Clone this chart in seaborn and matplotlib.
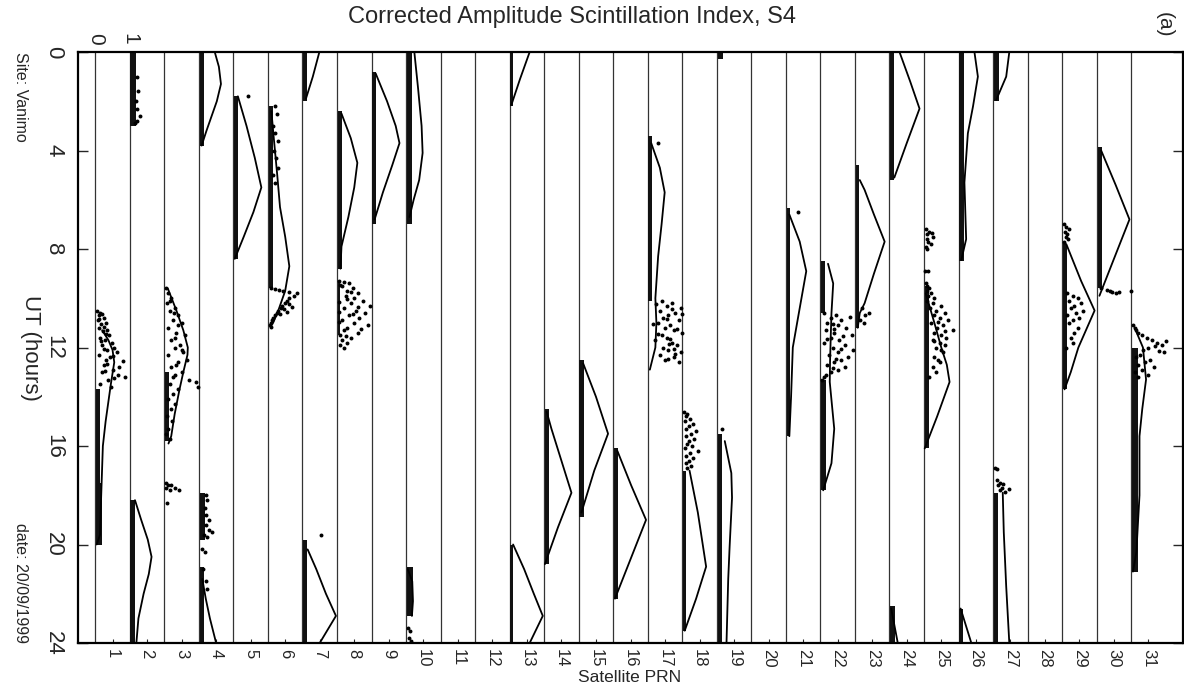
import numpy as np
import pandas as pd
import matplotlib
matplotlib.use('Agg')
import matplotlib.pyplot as plt
import seaborn as sns

prns = list(range(1, 32))
hour_ticks = [0, 4, 8, 12, 16, 20, 24]

# dense runs of low S4 (many points packed together): prn, start/end hour, S4 low/high
band_prn = [1, 1, 2, 2, 3, 4, 4, 4, 5, 6, 7, 7, 8, 8, 9, 10, 10, 13, 13, 14, 15, 16, 17, 18,
            19, 19, 21, 22, 22, 23, 24, 24, 25, 26, 26, 27, 27, 29, 30, 31]
band_t0 = [13.7, 17.5, 0.0, 18.2, 13.0, 0.0, 17.9, 20.9, 1.8, 2.2, 0.0, 19.8, 2.4, 9.3, 0.8, 0.0, 20.9, 0.0, 20.0, 14.5,
           12.5, 16.1, 3.4, 17.0, 0.0, 15.5, 6.35, 8.5, 13.3, 4.6, 0.0, 22.5, 9.5, 0.0, 22.6, 0.0, 17.9, 7.8, 3.85, 12.0]
band_t1 = [17.5, 20.0, 3.0, 24.0, 15.8, 3.8, 19.8, 24.0, 8.4, 9.6, 2.0, 24.0, 8.8, 11.5, 7.0, 7.0, 22.9, 2.2, 24.0, 20.8,
           18.9, 22.2, 10.1, 23.5, 0.3, 24.0, 15.6, 10.6, 17.8, 11.2, 5.2, 24.0, 16.1, 8.5, 24.0, 2.0, 24.0, 13.7, 9.6, 21.1]
band_lo = [0.02, 0.02, 0.02, 0.02, 0.02, 0.02, 0.02, 0.02, 0.02, 0.02, 0.02, 0.02, 0.02, 0.02, 0.02, 0.02, 0.04, 0.01, 0.01, 0.02,
           0.02, 0.02, 0.02, 0.02, 0.04, 0.02, 0.02, 0.02, 0.02, 0.02, 0.02, 0.02, 0.02, 0.02, 0.02, 0.02, 0.02, 0.02, 0.03, 0.03]
band_hi = [0.15, 0.19, 0.18, 0.14, 0.14, 0.14, 0.19, 0.14, 0.12, 0.16, 0.14, 0.12, 0.14, 0.09, 0.12, 0.16, 0.2, 0.1, 0.11, 0.13,
           0.15, 0.14, 0.13, 0.12, 0.18, 0.14, 0.13, 0.12, 0.16, 0.13, 0.14, 0.15, 0.14, 0.16, 0.13, 0.16, 0.14, 0.13, 0.15, 0.21]

# scattered S4 samples
scat_prn = [1, 3, 3, 4, 6, 8, 17, 18, 22, 23, 25, 25, 27, 29, 29, 30, 31, 2, 6, 10, 5, 7, 17, 21, 19]
scat_t = [
    [10.5, 10.6, 10.7, 10.8, 10.9, 11.0, 11.05, 11.2, 11.3, 11.35, 11.5, 11.6, 11.7, 11.8, 11.9, 12.0,
     12.1, 12.2, 12.3, 12.4, 12.5, 12.55, 12.7, 12.8, 12.9, 13.0, 13.1, 13.2, 13.3, 13.5, 13.6,
     10.65, 10.85, 11.15, 11.45, 11.75, 12.05, 12.35, 12.65, 12.95, 13.25],
    [9.6, 9.8, 10.0, 10.2, 10.4, 10.5, 10.7, 10.9, 11.0, 11.2, 11.4, 11.5, 11.7, 11.9, 12.0, 12.2, 12.3, 12.5,
     12.6, 12.8, 13.0, 13.1, 13.3, 13.4, 13.5, 13.6, 13.7, 13.9, 14.1, 14.3, 14.5, 14.8, 15.0, 15.3, 15.5, 15.7,
     10.1, 10.6, 11.1, 11.6, 12.1, 12.7, 13.2],
    [17.5, 17.6, 17.6, 17.7, 17.7, 17.8, 17.8, 18.3],
    [18.0, 18.2, 18.5, 18.8, 19.0, 19.2, 19.4, 19.5, 19.6, 19.7, 20.2, 20.3, 21.0, 21.5, 21.8],
    [9.6, 9.62, 9.65, 9.7, 9.75, 9.8, 9.9, 10.0, 10.1, 10.2, 10.25, 10.3, 10.4, 10.5, 10.55, 10.6, 10.7,
     10.8, 10.9, 11.0, 11.1, 11.15, 10.45, 10.35, 10.65],
    [9.3, 9.35, 9.4, 9.5, 9.6, 9.7, 9.8, 9.9, 10.0, 10.1, 10.2, 10.3, 10.4, 10.5, 10.6, 10.7, 10.8, 10.9,
     11.0, 11.1, 11.2, 11.3, 11.4, 11.5, 11.6, 11.7, 11.8, 11.9, 12.0, 10.15, 10.55, 10.95,
     9.45, 9.75, 10.05, 10.35, 10.65, 11.25, 11.55],
    [10.1, 10.2, 10.3, 10.4, 10.5, 10.6, 10.7, 10.8, 10.9, 11.0, 11.1, 11.2, 11.3, 11.4, 11.5, 11.6, 11.7,
     11.8, 11.9, 12.0, 12.1, 12.2, 12.3, 12.4, 12.5, 12.6, 10.25, 10.65, 11.05, 11.45, 11.85, 12.25,
     10.45, 10.85, 11.25, 11.65, 12.05, 12.45],
    [14.6, 14.7, 14.8, 14.9, 15.0, 15.1, 15.2, 15.3, 15.4, 15.5, 15.6, 15.7, 15.8, 15.9, 16.0, 16.1, 16.2,
     16.3, 16.4, 16.5, 16.6, 16.7, 16.8, 16.9],
    [10.6, 10.7, 10.75, 10.8, 10.9, 11.0, 11.1, 11.2, 11.3, 11.4, 11.5, 11.6, 11.7, 11.8, 11.9, 12.0, 12.1,
     12.2, 12.3, 12.4, 12.5, 12.6, 12.7, 12.8, 12.9, 13.0, 13.1, 13.2, 13.3, 11.05, 11.55,
     11.25, 11.65, 12.05, 12.45, 12.85],
    [10.4, 10.6, 10.7, 10.9, 11.0],
    [7.2, 7.3, 7.35, 7.4, 7.5, 7.6, 7.7, 7.8, 7.9, 8.0, 8.9, 8.9],
    [9.4, 9.5, 9.6, 9.7, 9.8, 9.9, 10.0, 10.1, 10.2, 10.3, 10.4, 10.5, 10.6, 10.7, 10.8, 10.9, 11.0, 11.1,
     11.2, 11.3, 11.4, 11.5, 11.6, 11.7, 11.8, 11.9, 12.0, 12.2, 12.4, 12.6, 12.8, 13.0, 13.2,
     10.95, 11.35, 11.75, 12.1, 12.5],
    [16.9, 16.95, 17.4, 17.5, 17.55, 17.6, 17.7, 17.75, 17.8, 17.85],
    [7.0, 7.1, 7.2, 7.3, 7.4, 7.5, 7.6, 7.7],
    [9.8, 9.9, 10.0, 10.1, 10.2, 10.3, 10.4, 10.5, 10.6, 10.7, 10.8, 10.9, 11.0, 11.2, 11.4, 11.6, 11.8, 12.0],
    [9.6, 9.65, 9.7, 9.75, 9.8, 9.7, 9.75],
    [11.1, 11.2, 11.3, 11.4, 11.5, 11.6, 11.7, 11.8, 11.9, 12.0, 12.1, 12.2, 12.3, 12.4, 12.5, 12.6, 12.7,
     12.8, 12.9, 13.0, 13.1, 13.2, 11.75, 11.95, 12.15],
    [1.0, 1.6, 2.0, 2.3, 2.6, 2.8, 2.9],
    [2.2, 2.5, 3.0, 3.3, 3.6, 4.0, 4.3, 4.7, 5.0, 5.3],
    [23.4, 23.5, 23.8, 23.9],
    [1.8], [19.6], [3.7], [6.5], [15.3],
]
scat_s = [
    [0.05, 0.15, 0.1, 0.25, 0.08, 0.3, 0.18, 0.12, 0.35, 0.22, 0.4, 0.15, 0.28, 0.48, 0.2, 0.55,
     0.35, 0.62, 0.12, 0.42, 0.3, 0.8, 0.25, 0.7, 0.5, 0.2, 0.65, 0.86, 0.38, 0.15, 0.45,
     0.2, 0.12, 0.25, 0.3, 0.18, 0.25, 0.5, 0.35, 0.28, 0.55],
    [0.05, 0.1, 0.2, 0.08, 0.3, 0.15, 0.4, 0.25, 0.5, 0.12, 0.35, 0.6, 0.2, 0.45, 0.3, 0.55, 0.1, 0.65,
     0.4, 0.2, 0.5, 0.3, 0.7, 0.92, 0.15, 0.97, 0.4, 0.25, 0.1, 0.3, 0.18, 0.08, 0.22, 0.12, 0.05, 0.15,
     0.15, 0.28, 0.4, 0.32, 0.5, 0.35, 0.25],
    [0.04, 0.12, 0.2, 0.06, 0.3, 0.15, 0.42, 0.08],
    [0.2, 0.25, 0.18, 0.22, 0.3, 0.2, 0.28, 0.37, 0.15, 0.25, 0.1, 0.18, 0.12, 0.2, 0.25],
    [0.08, 0.2, 0.32, 0.45, 0.6, 0.85, 0.75, 0.62, 0.55, 0.5, 0.6, 0.42, 0.38, 0.3, 0.55, 0.25, 0.2,
     0.15, 0.12, 0.08, 0.05, 0.1, 0.48, 0.7, 0.35],
    [0.05, 0.2, 0.35, 0.15, 0.45, 0.3, 0.6, 0.25, 0.5, 0.75, 0.4, 0.95, 0.2, 0.55, 0.8, 0.35, 0.65, 0.15,
     0.5, 0.9, 0.3, 0.2, 0.6, 0.1, 0.4, 0.15, 0.3, 0.08, 0.2, 0.05, 0.05, 0.05,
     0.1, 0.4, 0.3, 0.6, 0.45, 0.7, 0.25],
    [0.4, 0.7, 0.55, 0.95, 0.35, 0.8, 0.6, 0.45, 0.9, 0.3, 0.65, 0.5, 0.75, 0.98, 0.4, 0.55, 0.2,
     0.7, 0.85, 0.45, 0.6, 0.95, 0.35, 0.75, 0.5, 0.9, 0.25, 0.98, 0.15, 0.3, 0.62, 0.8,
     0.7, 0.55, 0.85, 0.65, 0.75, 0.6],
    [0.05, 0.15, 0.1, 0.22, 0.08, 0.3, 0.18, 0.12, 0.4, 0.25, 0.1, 0.35, 0.2, 0.15, 0.28, 0.08, 0.45,
     0.22, 0.12, 0.3, 0.18, 0.1, 0.25, 0.15],
    [0.1, 0.45, 0.85, 0.3, 0.6, 0.2, 0.5, 0.75, 0.15, 0.4, 0.9, 0.3, 0.55, 0.1, 0.7, 0.35, 0.95,
     0.5, 0.25, 0.8, 0.6, 0.4, 0.2, 0.7, 0.5, 0.3, 0.15, 0.1, 0.05, 0.35, 0.65,
     0.4, 0.2, 0.6, 0.45, 0.35],
    [0.2, 0.4, 0.3, 0.15, 0.25],
    [0.05, 0.15, 0.22, 0.1, 0.26, 0.08, 0.12, 0.2, 0.05, 0.1, 0.04, 0.12],
    [0.05, 0.1, 0.15, 0.08, 0.2, 0.12, 0.3, 0.1, 0.25, 0.5, 0.18, 0.35, 0.6, 0.28, 0.45, 0.7, 0.2, 0.55,
     0.38, 0.84, 0.3, 0.5, 0.65, 0.25, 0.45, 0.6, 0.35, 0.55, 0.3, 0.45, 0.25, 0.35, 0.15,
     0.4, 0.62, 0.3, 0.5, 0.4],
    [0.05, 0.12, 0.1, 0.2, 0.3, 0.15, 0.25, 0.45, 0.2, 0.35],
    [0.05, 0.12, 0.2, 0.08, 0.15, 0.1, 0.18, 0.06],
    [0.15, 0.3, 0.45, 0.2, 0.55, 0.35, 0.25, 0.6, 0.4, 0.15, 0.5, 0.3, 0.2, 0.45, 0.35, 0.25, 0.3, 0.12],
    [0.12, 0.3, 0.38, 0.45, 0.55, 0.98, 0.65],
    [0.05, 0.1, 0.15, 0.2, 0.3, 0.45, 0.6, 0.75, 0.9, 0.5, 0.35, 0.95, 0.25, 0.15, 0.55, 0.4, 0.2,
     0.65, 0.3, 0.1, 0.5, 0.2, 1.0, 0.7, 0.8],
    [0.2, 0.25, 0.18, 0.22, 0.3, 0.2, 0.15],
    [0.2, 0.25, 0.15, 0.2, 0.3, 0.18, 0.22, 0.3, 0.15, 0.2],
    [0.05, 0.12, 0.08, 0.15],
    [0.42], [0.54], [0.3], [0.35], [0.15],
]

# per-pass reference curves (same 0..1 scale inside each PRN strip)
curve_prn = [1, 2, 3, 4, 4, 5, 6, 7, 7, 8, 9, 10, 10, 13, 13, 14, 15, 16, 17, 18, 19, 21, 22,
             23, 24, 24, 25, 26, 26, 27, 27, 29, 30, 31]
curve_t = [
    [11.3, 11.7, 12.1, 12.6, 13.5, 15.0, 16.0, 18.5, 19.6, 20.0],
    [18.2, 19.0, 19.8, 20.5, 21.2, 22.0, 23.0, 24.0],
    [9.6, 10.5, 11.3, 12.0, 12.3, 13.0, 13.7, 14.7, 15.6, 15.9],
    [0.0, 0.6, 1.3, 2.0, 2.6, 3.2, 3.8],
    [21.4, 22.2, 23.0, 24.0],
    [1.8, 3.0, 4.3, 5.5, 6.5, 7.5, 8.4],
    [2.4, 3.5, 5.0, 6.3, 7.5, 8.7, 9.7, 10.5, 11.0],
    [0.0, 1.0, 1.9],
    [20.2, 21.0, 22.0, 22.9, 24.0],
    [2.5, 3.5, 4.5, 5.5, 6.7, 7.9, 8.8],
    [0.87, 2.0, 3.0, 3.7, 4.6, 5.7, 6.8],
    [0.0, 1.5, 3.0, 4.1, 5.2, 6.0, 6.7],
    [21.0, 21.5, 22.3, 22.9],
    [0.0, 1.1, 2.15],
    [20.0, 21.0, 22.0, 22.9, 24.0],
    [14.6, 15.3, 16.6, 17.9, 19.3, 20.8],
    [12.65, 14.0, 15.5, 17.0, 18.7],
    [16.2, 17.6, 19.0, 20.6, 22.2],
    [3.7, 4.7, 5.7, 7.0, 8.3, 10.0, 11.0, 12.0, 12.9],
    [17.0, 18.7, 20.9, 22.2, 23.5],
    [15.8, 17.1, 18.1, 20.1, 21.4, 24.0],
    [6.6, 7.7, 8.9, 10.8, 12.0, 14.0, 15.6],
    [8.6, 9.4, 10.6, 11.5, 12.5, 13.4, 15.3, 16.7, 17.8],
    [5.2, 5.6, 6.6, 7.7, 9.0, 10.2, 10.6, 11.2],
    [0.0, 1.2, 2.3, 3.7, 5.1],
    [22.6, 24.0],
    [9.8, 11.0, 12.0, 12.7, 13.4, 14.8, 16.1],
    [0.0, 1.0, 2.2, 3.3, 5.3, 7.6, 8.45],
    [22.6, 24.0],
    [0.0, 1.0, 1.95],
    [17.9, 19.5, 21.7, 24.0],
    [7.8, 9.3, 10.5, 12.0, 13.0, 13.7],
    [4.0, 5.4, 6.8, 8.4, 9.9],
    [11.2, 12.0, 13.3, 14.5, 15.6, 18.0, 20.3, 21.1],
]
curve_s = [
    [0.2, 0.38, 0.5, 0.55, 0.45, 0.3, 0.22, 0.16, 0.14, 0.04],
    [0.15, 0.33, 0.52, 0.63, 0.55, 0.4, 0.25, 0.19],
    [0.1, 0.35, 0.55, 0.68, 0.67, 0.55, 0.44, 0.3, 0.2, 0.12],
    [0.46, 0.58, 0.64, 0.52, 0.37, 0.22, 0.08],
    [0.1, 0.2, 0.32, 0.5],
    [0.13, 0.38, 0.62, 0.81, 0.58, 0.3, 0.04],
    [0.1, 0.17, 0.27, 0.35, 0.5, 0.62, 0.5, 0.3, 0.15],
    [0.49, 0.3, 0.1],
    [0.15, 0.4, 0.68, 0.97, 0.5],
    [0.13, 0.4, 0.59, 0.5, 0.33, 0.13, 0.1],
    [0.12, 0.45, 0.7, 0.81, 0.6, 0.33, 0.09],
    [0.24, 0.35, 0.45, 0.48, 0.38, 0.22, 0.1],
    [0.05, 0.18, 0.2, 0.17],
    [0.58, 0.3, 0.05],
    [0.1, 0.42, 0.7, 0.96, 0.58],
    [0.07, 0.21, 0.5, 0.79, 0.4, 0.02],
    [0.13, 0.5, 0.85, 0.45, 0.08],
    [0.12, 0.52, 0.95, 0.5, 0.05],
    [0.1, 0.35, 0.49, 0.4, 0.3, 0.22, 0.25, 0.22, 0.06],
    [0.21, 0.45, 0.69, 0.4, 0.07],
    [0.23, 0.42, 0.44, 0.37, 0.33, 0.28],
    [0.1, 0.4, 0.59, 0.35, 0.2, 0.15, 0.1],
    [0.22, 0.37, 0.32, 0.3, 0.28, 0.27, 0.4, 0.32, 0.08],
    [0.14, 0.28, 0.55, 0.86, 0.55, 0.28, 0.14, 0.08],
    [0.29, 0.6, 0.87, 0.5, 0.14],
    [0.05, 0.24],
    [0.05, 0.3, 0.5, 0.66, 0.74, 0.38, 0.02],
    [0.46, 0.56, 0.42, 0.27, 0.17, 0.22, 0.08],
    [0.06, 0.37],
    [0.47, 0.38, 0.09],
    [0.28, 0.31, 0.38, 0.47],
    [0.12, 0.55, 0.94, 0.47, 0.25, 0.07],
    [0.13, 0.55, 0.95, 0.5, 0.08],
    [0.1, 0.34, 0.43, 0.32, 0.24, 0.24, 0.15, 0.05],
]

# build tables: each strip n spans n-0.5 .. n+0.5, S4 0..1 across it
rows = []
for p, ts, ss in zip(scat_prn, scat_t, scat_s):
    for t, s in zip(ts, ss):
        rows.append({'x': p - 0.5 + s, 'ut': t})
dots = pd.DataFrame(rows)

rows = []
for i, (p, ts, ss) in enumerate(zip(curve_prn, curve_t, curve_s)):
    for t, s in zip(ts, ss):
        rows.append({'pass': i, 'x': p - 0.5 + s, 'ut': t})
curves = pd.DataFrame(rows)

sns.set_style('white')
plt.rcParams['font.family'] = ['Liberation Sans', 'DejaVu Sans']

fig = plt.figure(figsize=(11.84, 6.89), dpi=100)
W, H = 1184, 689
ax = fig.add_axes([78 / W, 1 - 643 / H, (1183 - 78) / W, (643 - 52) / H])

# strip separators
for n in prns:
    ax.axvline(n - 0.5, color='#333333', lw=0.9, zorder=1)

for p, t0, t1, lo, hi in zip(band_prn, band_t0, band_t1, band_lo, band_hi):
    ax.fill_betweenx([t0, t1], p - 0.5 + lo, p - 0.5 + hi, color='#111111', lw=0, zorder=2)

sns.scatterplot(data=dots, x='x', y='ut', s=8, color='black', marker='o', linewidth=0, ax=ax, zorder=3)
sns.lineplot(data=curves, x='x', y='ut', units='pass', estimator=None, sort=False,
             color='black', lw=1.3, legend=False, ax=ax, zorder=4)

ax.set_xlim(0, 32)
ax.set_ylim(24, 0)
ax.set_xlabel('')
ax.set_ylabel('')
for side in ax.spines.values():
    side.set_linewidth(1.6)
    side.set_color('black')

ax.set_yticks(hour_ticks)
ax.set_yticklabels([str(h) for h in hour_ticks], rotation=-90, va='center', fontsize=16)
ax.set_xticks(prns)
ax.set_xticklabels([str(p) for p in prns], rotation=-90, ha='center', va='top', fontsize=12)
ax.tick_params(axis='y', direction='in', length=7, width=1, left=True, right=True, pad=10)
ax.tick_params(axis='x', direction='in', length=3, width=0.8, bottom=True, top=False, pad=4)

# S4 scale of a strip
ax.text(0.5, 1.012, '0', transform=ax.get_xaxis_transform(), rotation=-90, ha='center', va='bottom', fontsize=15)
ax.text(1.5, 1.012, '1', transform=ax.get_xaxis_transform(), rotation=-90, ha='center', va='bottom', fontsize=15)

fig.text(572 / W, 1 - 17 / H, 'Corrected Amplitude Scintillation Index, S4', ha='center', va='center', fontsize=17)
fig.text(1164 / W, 1 - 25 / H, '(a)', rotation=-90, ha='center', va='center', fontsize=15)
fig.text(30 / W, 1 - 348 / H, 'UT (hours)', rotation=-90, ha='center', va='center', fontsize=16)
fig.text(20 / W, 1 - 52 / H, 'Site: Vanimo', rotation=-90, ha='center', va='top', fontsize=11.5)
fig.text(20 / W, 1 - 643 / H, 'date: 20/09/1999', rotation=-90, ha='center', va='bottom', fontsize=11.5)
fig.text(630 / W, 1 - 677 / H, 'Satellite PRN', ha='center', va='center', fontsize=12.5)

fig.savefig('out.png', dpi=100)
